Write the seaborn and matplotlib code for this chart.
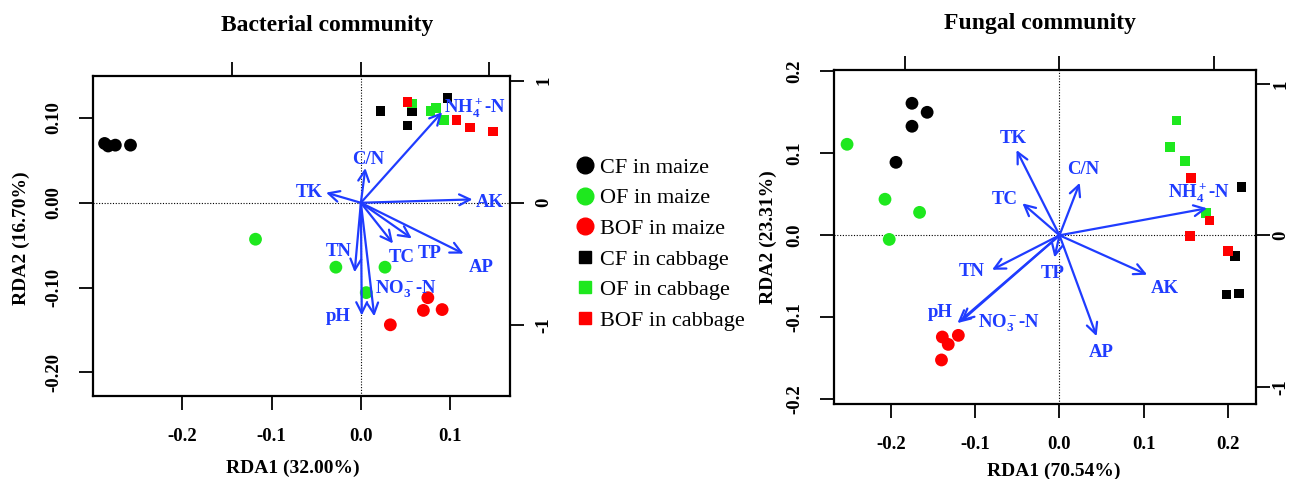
import matplotlib
matplotlib.use("Agg")
import matplotlib.pyplot as plt
import numpy as np
import pandas as pd
import seaborn as sns
from matplotlib.lines import Line2D

# groups (4 replicates each, same order in every score list)
groups = ["CF in maize", "OF in maize", "BOF in maize",
          "CF in cabbage", "OF in cabbage", "BOF in cabbage"]
fertilizer = ["CF", "OF", "BOF", "CF", "OF", "BOF"]
crop = ["maize", "maize", "maize", "cabbage", "cabbage", "cabbage"]

# bacterial community site scores
bac_rda1 = [-0.287, -0.283, -0.275, -0.258,
            -0.118, -0.028, 0.027, 0.006,
            0.075, 0.070, 0.091, 0.033,
            0.022, 0.057, 0.052, 0.097,
            0.057, 0.078, 0.084, 0.093,
            0.052, 0.107, 0.122, 0.148]
bac_rda2 = [0.070, 0.067, 0.068, 0.068,
            -0.043, -0.076, -0.076, -0.106,
            -0.112, -0.127, -0.126, -0.144,
            0.108, 0.108, 0.091, 0.124,
            0.117, 0.108, 0.112, 0.098,
            0.119, 0.098, 0.089, 0.084]

# fungal community site scores
fun_rda1 = [-0.175, -0.157, -0.175, -0.194,
            -0.252, -0.207, -0.166, -0.202,
            -0.139, -0.132, -0.120, -0.140,
            0.216, 0.208, 0.198, 0.213,
            0.139, 0.131, 0.149, 0.174,
            0.156, 0.178, 0.155, 0.200]
fun_rda2 = [0.161, 0.150, 0.133, 0.089,
            0.111, 0.044, 0.028, -0.005,
            -0.124, -0.133, -0.122, -0.152,
            0.059, -0.025, -0.072, -0.071,
            0.140, 0.108, 0.091, 0.027,
            0.070, 0.018, -0.001, -0.019]

# environmental vectors (arrow tips)
env_labels = ["NH$_4^+$-N", "C/N", "TK", "AK", "AP", "TP", "TC", "TN", "pH",
              "NO$_3^-$-N"]
bac_env_x = [0.091, 0.005, -0.039, 0.125, 0.115, 0.057, 0.036, -0.007, 0.001, 0.015]
bac_env_y = [0.107, 0.041, 0.012, 0.004, -0.060, -0.042, -0.048, -0.082, -0.133, -0.134]
fun_env_x = [0.175, 0.024, -0.051, 0.104, 0.044, -0.006, -0.044, -0.080, -0.121, -0.117]
fun_env_y = [0.033, 0.064, 0.104, -0.048, -0.123, -0.027, 0.039, -0.042, -0.107, -0.105]

# label placement for the vectors (layout only)
bac_label_pos = [(0.128, 0.111), (0.008, 0.051), (-0.058, 0.012), (0.144, 0.0),
                 (0.135, -0.076), (0.077, -0.060), (0.046, -0.065), (-0.025, -0.058),
                 (-0.025, -0.134), (0.051, -0.102)]
fun_label_pos = [(0.166, 0.051), (0.028, 0.080), (-0.055, 0.118), (0.125, -0.065),
                 (0.049, -0.143), (-0.008, -0.046), (-0.065, 0.044), (-0.104, -0.044),
                 (-0.141, -0.094), (-0.060, -0.107)]

W, H = 1294, 479
BLUE = "#1f3cff"
GREEN = "#1ee81e"
palette = {"CF": "black", "OF": GREEN, "BOF": "#ff0000"}

sns.set_style("white")
plt.rcParams["font.family"] = ["Liberation Serif", "DejaVu Serif"]
plt.rcParams["text.color"] = "black"
plt.rcParams["axes.labelcolor"] = "black"
plt.rcParams["axes.unicode_minus"] = False
plt.rcParams["mathtext.fontset"] = "custom"
plt.rcParams["mathtext.rm"] = "Liberation Serif:bold"
plt.rcParams["mathtext.bf"] = "Liberation Serif:bold"
plt.rcParams["mathtext.it"] = "Liberation Serif:bold"
plt.rcParams["mathtext.default"] = "bf"

fig = plt.figure(figsize=(W / 100, H / 100), dpi=100)


def px_axes(left, top, right, bottom):
    return fig.add_axes([left / W, 1 - bottom / H, (right - left) / W, (bottom - top) / H])


def draw_panel(ax, rda1, rda2, env_x, env_y, label_pos, xlim, ylim,
               xticks, yticks, yfmt, sx, sy, right_pad):
    df = pd.DataFrame({
        "RDA1": rda1,
        "RDA2": rda2,
        "fert": np.repeat(fertilizer, 4),
        "crop": np.repeat(crop, 4),
    })
    ax.axhline(0, color="black", ls=(0, (1, 1.5)), lw=0.8, zorder=1)
    ax.axvline(0, color="black", ls=(0, (1, 1.5)), lw=0.8, zorder=1)
    sns.scatterplot(data=df[df.crop == "maize"], x="RDA1", y="RDA2", hue="fert",
                    palette=palette, marker="o", s=85, linewidth=0, legend=False,
                    ax=ax, zorder=3)
    sns.scatterplot(data=df[df.crop == "cabbage"], x="RDA1", y="RDA2", hue="fert",
                    palette=palette, marker="s", s=48, linewidth=0, legend=False,
                    ax=ax, zorder=3)
    for lab, x, y, (lx, ly) in zip(env_labels, env_x, env_y, label_pos):
        ax.annotate("", xy=(x, y), xytext=(0, 0),
                    arrowprops=dict(arrowstyle="->,head_length=0.6,head_width=0.3",
                                    color=BLUE, lw=1.6, shrinkA=0, shrinkB=0,
                                    mutation_scale=13), zorder=4)
        ax.text(lx, ly, lab, color=BLUE, fontsize=13.5, fontweight="bold",
                ha="center", va="center", zorder=5)

    ax.set_xlim(xlim)
    ax.set_ylim(ylim)
    ax.set_xticks(xticks, labels=[f"{t:.1f}" for t in xticks])
    ax.set_yticks(yticks, labels=[yfmt.format(t) for t in yticks])
    ax.set_xlabel("")
    ax.set_ylabel("")
    ax.tick_params(axis="both", direction="out", length=10, width=1.3, labelsize=13.5,
                   bottom=True, left=True, colors="black")
    ax.tick_params(axis="x", pad=13)
    ax.tick_params(axis="y", pad=12, labelrotation=90)
    for t in ax.get_xticklabels() + ax.get_yticklabels():
        t.set_fontweight("bold")
    for t in ax.get_yticklabels():
        t.set_va("center")
    for sp in ax.spines.values():
        sp.set_linewidth(1.6)
        sp.set_color("black")

    # secondary axes for the vector scores
    axt = ax.twiny()
    axt.set_xlim(np.array(xlim) / sx)
    axt.set_xticks([-1, 0, 1])
    axt.tick_params(axis="x", top=True, labeltop=False, direction="out", length=10,
                    width=1.3, colors="black")
    axr = ax.twinx()
    axr.set_ylim(np.array(ylim) / sy)
    axr.set_yticks([-1, 0, 1], labels=["-1", "0", "1"])
    axr.tick_params(axis="y", right=True, direction="out", length=10, width=1.3,
                    labelsize=13.5, pad=right_pad, labelrotation=90, colors="black")
    for t in axr.get_yticklabels():
        t.set_fontweight("bold")
        t.set_va("center")
    for a in (axt, axr):
        for sp in a.spines.values():
            sp.set_visible(False)


ax1 = px_axes(93, 76, 510, 396)
draw_panel(ax1, bac_rda1, bac_rda2, bac_env_x, bac_env_y, bac_label_pos,
           (-0.300, 0.167), (-0.228, 0.1496),
           [-0.2, -0.1, 0.0, 0.1], [-0.2, -0.1, 0.0, 0.1], "{:.2f}", 0.144, 0.144, 8)

ax2 = px_axes(834, 70, 1256, 404)
draw_panel(ax2, fun_rda1, fun_rda2, fun_env_x, fun_env_y, fun_label_pos,
           (-0.2675, 0.2331), (-0.2057, 0.2016),
           [-0.2, -0.1, 0.0, 0.1, 0.2], [-0.2, -0.1, 0.0, 0.1, 0.2], "{:.1f}",
           0.183, 0.1846, 2)

txt = dict(fontweight="bold", ha="center", va="center", color="black")
fig.text(327 / W, 1 - 25 / H, "Bacterial community", fontsize=17, **txt)
fig.text(1040 / W, 1 - 24 / H, "Fungal community", fontsize=17, **txt)
fig.text(293 / W, 1 - 468 / H, "RDA1 (32.00%)", fontsize=14, **txt)
fig.text(21 / W, 1 - 238 / H, "RDA2 (16.70%)", fontsize=14, rotation=90, **txt)
fig.text(1054 / W, 1 - 471 / H, "RDA1 (70.54%)", fontsize=14, **txt)
fig.text(768 / W, 1 - 237 / H, "RDA2 (23.31%)", fontsize=14, rotation=90, **txt)

handles = []
for f, c in zip(fertilizer, crop):
    if c == "maize":
        handles.append(Line2D([], [], marker="o", ls="", color=palette[f], markersize=12))
    else:
        handles.append(Line2D([], [], marker="s", ls="", color=palette[f], markersize=8))
leg = fig.legend(handles, groups, loc="center left", bbox_to_anchor=(574 / W, 1 - 244 / H),
                 frameon=False, prop={"family": "Liberation Serif", "size": 16},
                 handlelength=1.0, handletextpad=0.15, labelspacing=0.45, borderpad=0,
                 borderaxespad=0)
for t in leg.get_texts():
    t.set_color("black")

fig.savefig("out.png", dpi=100)
